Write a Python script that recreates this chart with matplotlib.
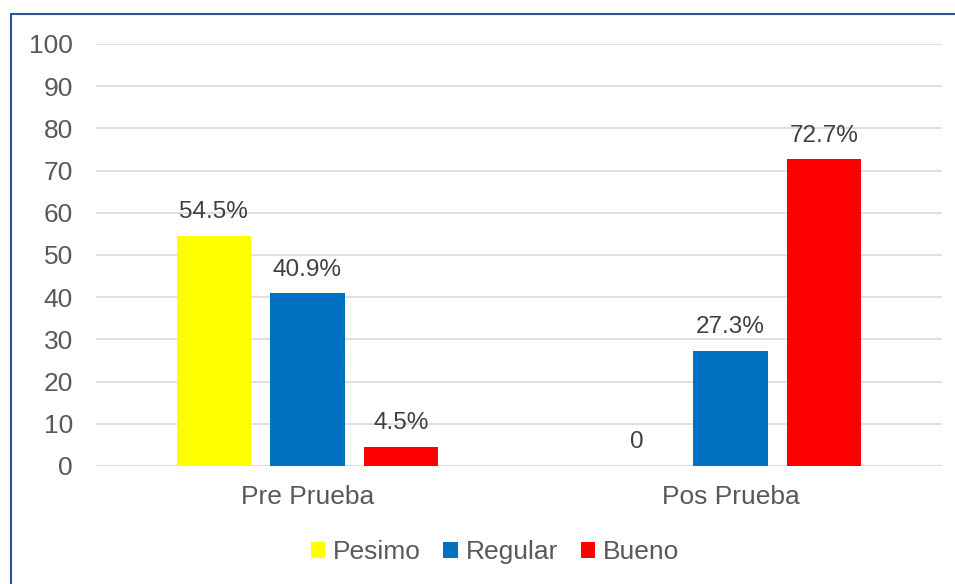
import numpy as np
import matplotlib.pyplot as plt
from matplotlib.patches import Rectangle

plt.rcParams['font.family'] = ['Liberation Sans', 'DejaVu Sans']

# --- Datos ---
categorias = ['Pre Prueba', 'Pos Prueba']
series = ['Pesimo', 'Regular', 'Bueno']
valores = {
    'Pesimo': [54.5, 0],
    'Regular': [40.9, 27.3],
    'Bueno': [4.5, 72.7],
}
etiquetas = {
    'Pesimo': ['54.5%', '0'],
    'Regular': ['40.9%', '27.3%'],
    'Bueno': ['4.5%', '72.7%'],
}
colores = ['#FFFF00', '#0070C0', '#FF0000']

fig = plt.figure(figsize=(9.55, 5.84), dpi=100)
ax = fig.add_axes([0.1005, 0.2021, 0.8859, 0.7226])

# marco azul del gráfico
fig.patches.append(Rectangle((10.5 / 955, -0.1), 1.2, 1 - 14.5 / 584 + 0.1,
                             transform=fig.transFigure, fill=False,
                             edgecolor='#2F5597', linewidth=1.5))

x = np.arange(len(categorias))
ancho = 0.175
paso = 0.222
for i, (s, c) in enumerate(zip(series, colores)):
    pos = x + (i - 1) * paso
    ax.bar(pos, valores[s], width=ancho, color=c, label=s, zorder=3)
    for px, v, t in zip(pos, valores[s], etiquetas[s]):
        ax.text(px, v + 3, t, ha='center', va='bottom', fontsize=17.5, color='#404040')

ax.set_xlim(-0.5, 1.5)
ax.set_ylim(0, 100)
ax.set_yticks(range(0, 101, 10))
ax.set_xticks(x)
ax.set_xticklabels(categorias)
ax.tick_params(axis='both', length=0, labelsize=19, colors='#595959')
ax.tick_params(axis='x', pad=14)
ax.tick_params(axis='y', pad=16.5)
ax.grid(axis='y', color='#D9D9D9', linewidth=1.2, zorder=0)
for sp in ax.spines.values():
    sp.set_visible(False)

leg = fig.legend(loc='center', bbox_to_anchor=(495 / 955, 1 - 552 / 584), ncol=3,
                 frameon=False, fontsize=19, handlelength=0.55, handleheight=0.55,
                 handletextpad=0.3, columnspacing=0.85)
for t in leg.get_texts():
    t.set_color('#595959')

fig.savefig('out.png', dpi=100)
